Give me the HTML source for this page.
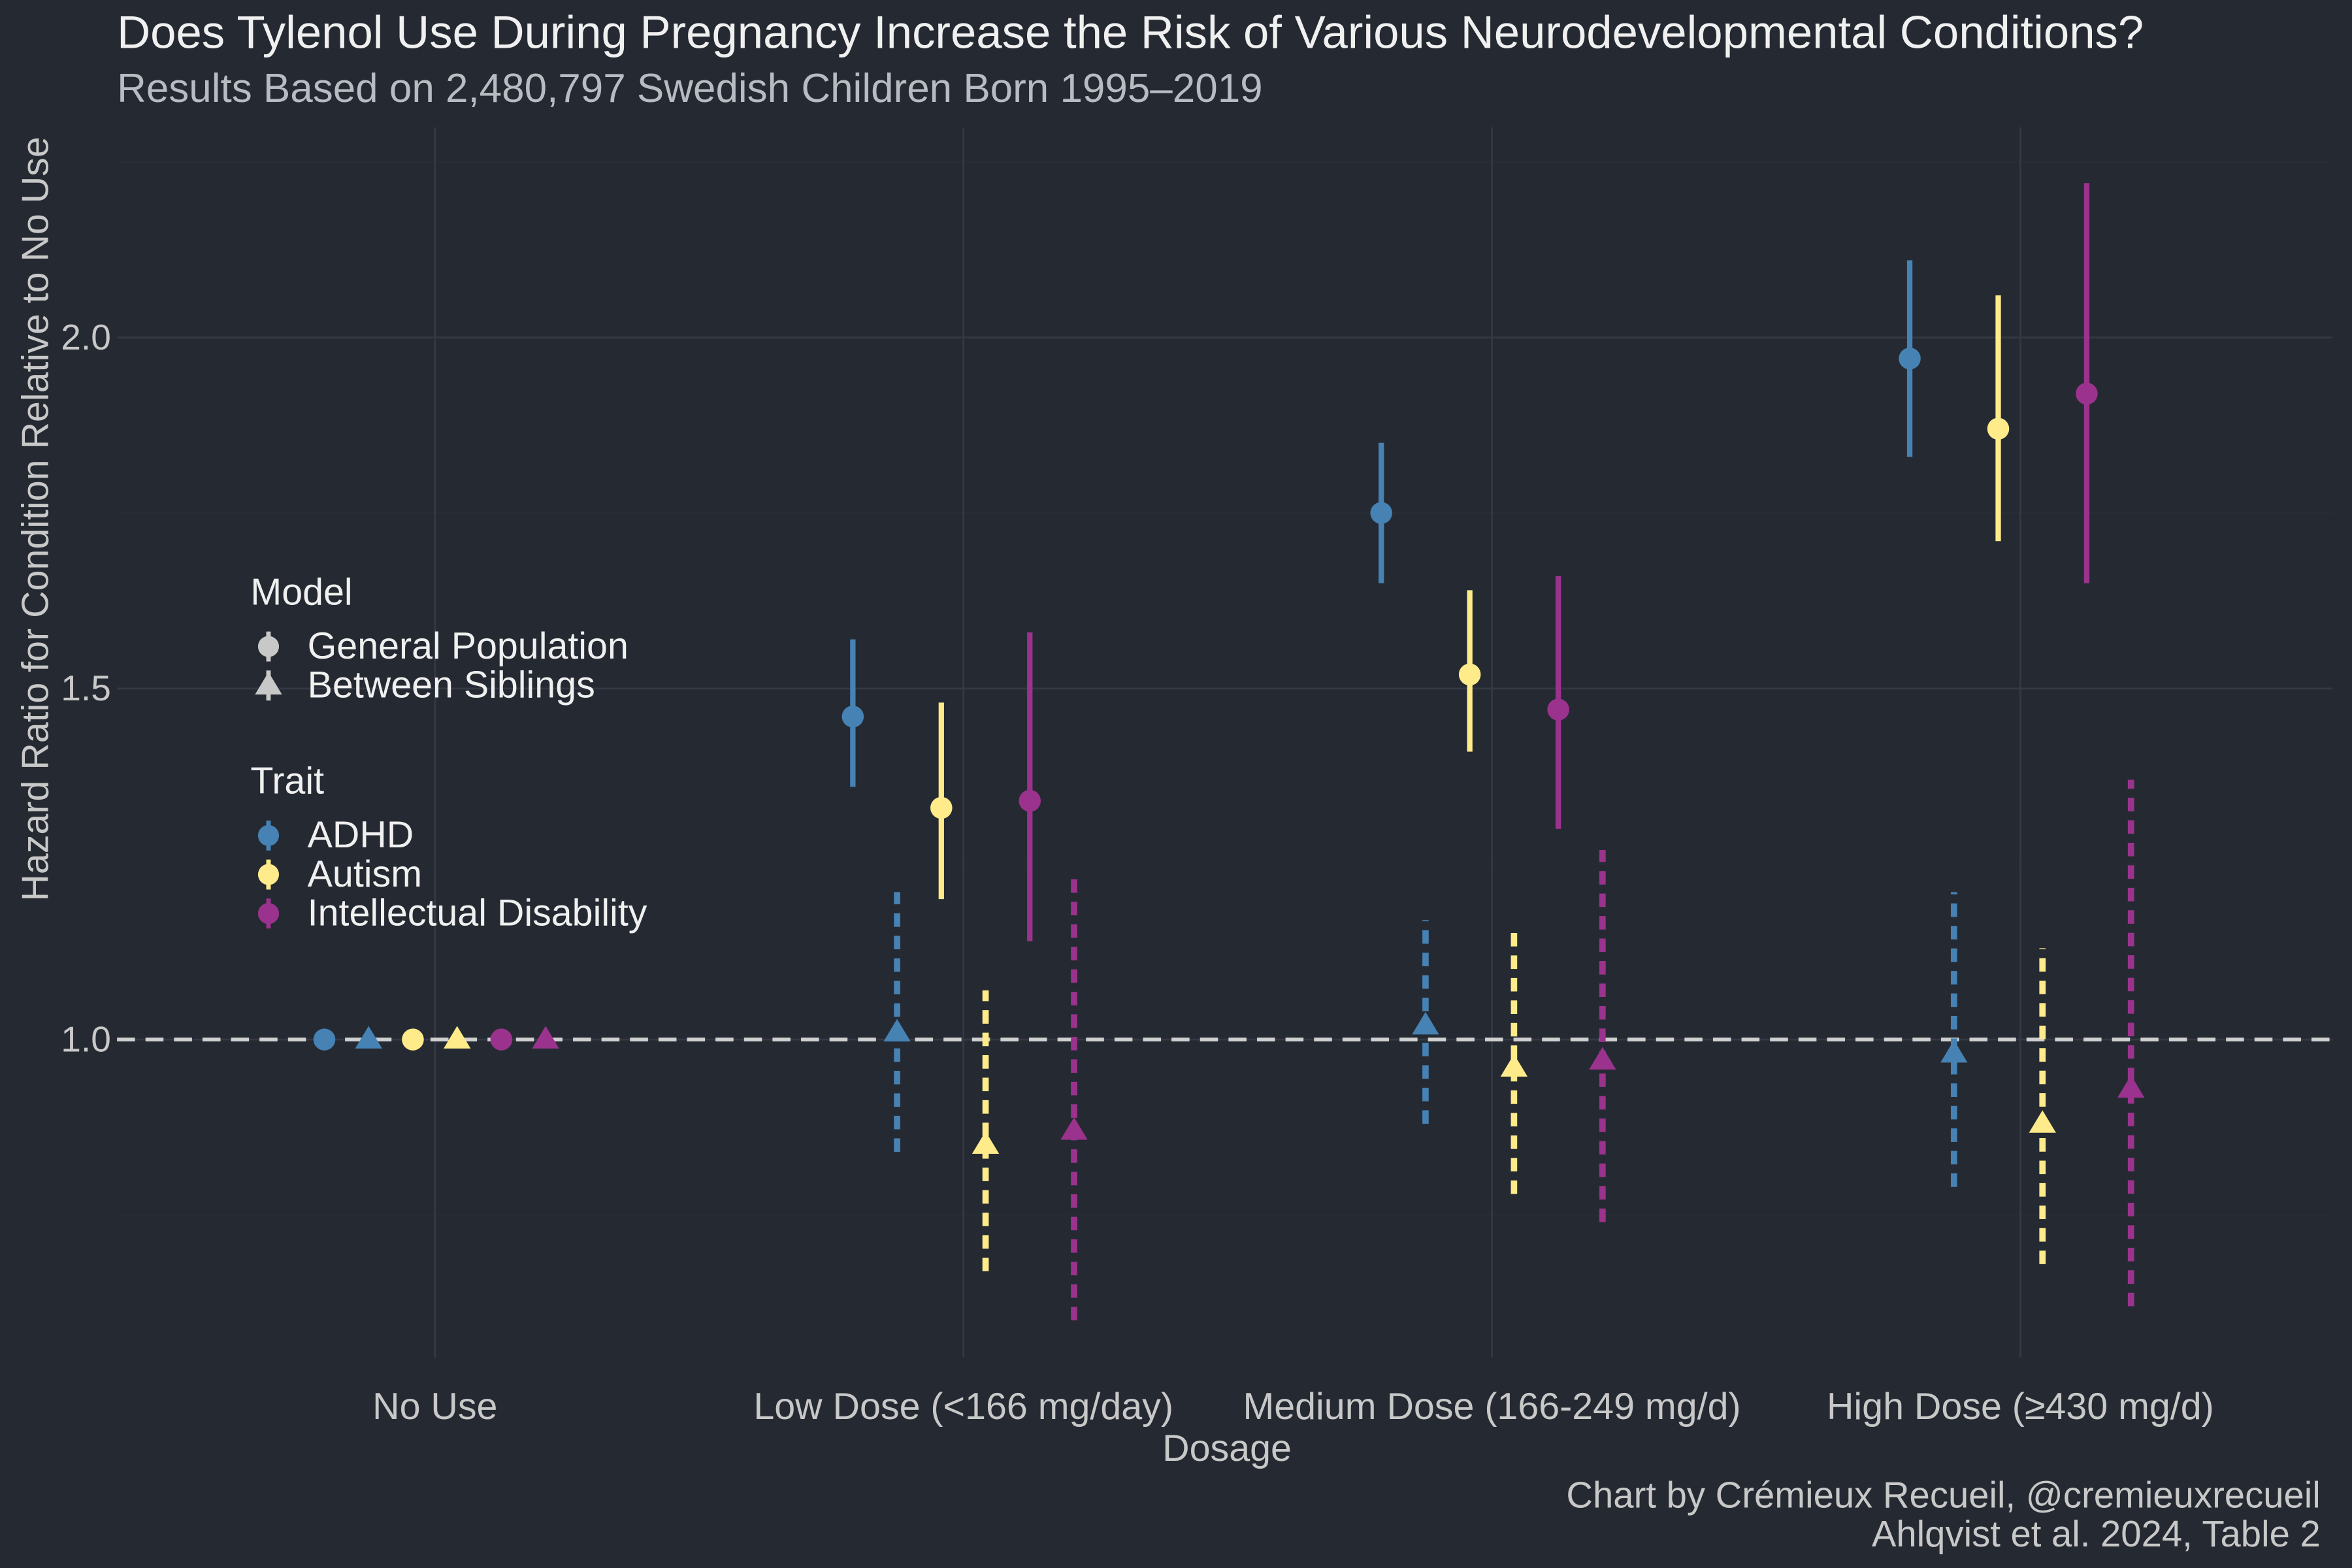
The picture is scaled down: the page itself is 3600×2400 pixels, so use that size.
<!DOCTYPE html>
<html><head><meta charset="utf-8"><style>
html,body{margin:0;padding:0;background:#252a32;}
svg{display:block;font-family:"Liberation Sans",sans-serif;}
</style></head><body>
<svg id="chart" width="3600" height="2400" viewBox="0 0 1568 1045.33" xmlns="http://www.w3.org/2000/svg">
<rect x="0" y="0" width="1568" height="1046" fill="#252a32"/>
<text x="78" y="32" font-size="30.8" fill="#f0f0f0">Does Tylenol Use During Pregnancy Increase the Risk of Various Neurodevelopmental Conditions?</text>
<text x="78" y="68" font-size="27" fill="#b8bcc2">Results Based on 2,480,797 Swedish Children Born 1995–2019</text>
<g id="grid"></g>
<g id="marks"></g>
<g id="axes"></g>
<text x="818" y="974" font-size="25" fill="#c8c8c8" text-anchor="middle">Dosage</text>
<text transform="translate(32,346) rotate(-90)" font-size="25" fill="#c8c8c8" text-anchor="middle">Hazard Ratio for Condition Relative to No Use</text>
<g>
<text x="167" y="403" font-size="25" fill="#f0f0f0">Model</text>
<g>
<line x1="179" y1="421" x2="179" y2="441" stroke="#c8c8c8" stroke-width="3"/><circle cx="179" cy="431" r="7" fill="#c8c8c8"/>
<text x="205" y="439" font-size="25" fill="#f0f0f0">General Population</text></g>
<g>
<line x1="179" y1="447" x2="179" y2="467" stroke="#c8c8c8" stroke-width="3"/><polygon points="179,448 188,463 170,463" fill="#c8c8c8"/>
<text x="205" y="465" font-size="25" fill="#f0f0f0">Between Siblings</text></g>
<text x="167" y="529" font-size="25" fill="#f0f0f0">Trait</text>
<g><line x1="179" y1="547" x2="179" y2="567" stroke="#4682b4" stroke-width="3"/><circle cx="179" cy="557" r="7" fill="#4682b4"/><text x="205" y="565" font-size="25" fill="#f0f0f0">ADHD</text></g>
<g><line x1="179" y1="573" x2="179" y2="593" stroke="#ffeb8a" stroke-width="3"/><circle cx="179" cy="583" r="7" fill="#ffeb8a"/><text x="205" y="591" font-size="25" fill="#f0f0f0">Autism</text></g>
<g><line x1="179" y1="599" x2="179" y2="619" stroke="#9b338e" stroke-width="3"/><circle cx="179" cy="609" r="7" fill="#9b338e"/><text x="205" y="617" font-size="25" fill="#f0f0f0">Intellectual Disability</text></g>
</g>
<text x="1547" y="1005" font-size="24.5" fill="#c8c8c8" text-anchor="end">Chart by Crémieux Recueil, @cremieuxrecueil</text>
<text x="1547" y="1031" font-size="24.5" fill="#c8c8c8" text-anchor="end">Ahlqvist et al. 2024, Table 2</text>
</svg>
<script>
const categories = ["No Use", "Low Dose (<166 mg/day)", "Medium Dose (166-249 mg/d)", "High Dose (≥430 mg/d)"];
const traits = ["ADHD", "Autism", "Intellectual Disability"];
const models = ["General Population", "Between Siblings"];
const yTicks = [1.0, 1.5, 2.0];
const yTickLabels = ["1.0", "1.5", "2.0"];
// [category][trait] values
const genEst = [[1,1,1],[1.46,1.33,1.34],[1.75,1.52,1.47],[1.97,1.87,1.92]];
const genLo  = [[1,1,1],[1.36,1.20,1.14],[1.65,1.41,1.30],[1.83,1.71,1.65]];
const genHi  = [[1,1,1],[1.57,1.48,1.58],[1.85,1.64,1.66],[2.11,2.06,2.22]];
const sibEst = [[1,1,1],[1.01,0.85,0.87],[1.02,0.96,0.97],[0.98,0.88,0.93]];
const sibLo  = [[1,1,1],[0.84,0.67,0.60],[0.88,0.78,0.74],[0.79,0.68,0.62]];
const sibHi  = [[1,1,1],[1.21,1.07,1.24],[1.17,1.16,1.27],[1.21,1.13,1.37]];

const colors = ["#4682b4","#ffeb8a","#9b338e"];
const NS="http://www.w3.org/2000/svg";
const L=78,R=1555,T=85,B=905;
const xPos = i => 290 + i*352.3;
const y = v => 693 - (v-1)*468;
function mk(tag, attrs, parent){const e=document.createElementNS(NS,tag);for(const k in attrs)e.setAttribute(k,attrs[k]);parent.appendChild(e);return e;}
const grid=document.getElementById('grid'), marks=document.getElementById('marks'), axes=document.getElementById('axes');
[0.75,1.25,1.75,2.25].forEach(v=>{ if(y(v)>T-5&&y(v)<B){const g=mk('line',{x1:L,x2:R,y1:y(v),y2:y(v),stroke:'#292e36','stroke-width':0.8},grid);

}});
yTicks.forEach((v,i)=>{
 const g=mk('line',{x1:L,x2:R,y1:y(v),y2:y(v),stroke:'#343944','stroke-width':1.2},grid);
 
 
 const t=mk('text',{x:74,y:y(v)+8,'font-size':24,fill:'#c8c8c8','text-anchor':'end'},axes);
 t.textContent=yTickLabels[i];
 
 
});
categories.forEach((c,i)=>{
 const g=mk('line',{x1:xPos(i),x2:xPos(i),y1:T,y2:B,stroke:'#343944','stroke-width':1.2},grid);
 
 
 const t=mk('text',{x:xPos(i),y:946,'font-size':25,fill:'#c8c8c8','text-anchor':'middle'},axes);
 t.textContent=c;
 
 
});
const ref=mk('line',{x1:L,x2:R,y1:y(1),y2:y(1),stroke:'#d0d0d0','stroke-width':2.5,'stroke-dasharray':'12 7'},grid);


categories.forEach((c,ci)=>{
 traits.forEach((tr,ti)=>{
  [0,1].forEach(m=>{
   const k=ti*2+m;
   const x=xPos(ci)-73.75+k*29.5;
   const est=m?sibEst[ci][ti]:genEst[ci][ti], lo=m?sibLo[ci][ti]:genLo[ci][ti], hi=m?sibHi[ci][ti]:genHi[ci][ti];
   const col=colors[ti];
   if(hi>lo){
    const ln=mk('line',{x1:x,x2:x,y1:y(lo),y2:y(hi),stroke:col,'stroke-width':m?4.2:3.6},marks);
    if(m) ln.setAttribute('stroke-dasharray','9 6');
    
    
   }
   let p;
   if(m){const cy=y(est);p=mk('polygon',{points:`${x},${cy-9} ${x+9},${cy+6} ${x-9},${cy+6}`,fill:col},marks);}
   else p=mk('circle',{cx:x,cy:y(est),r:7.3,fill:col},marks);
   
   
  });
 });
});
</script>
</body></html>
